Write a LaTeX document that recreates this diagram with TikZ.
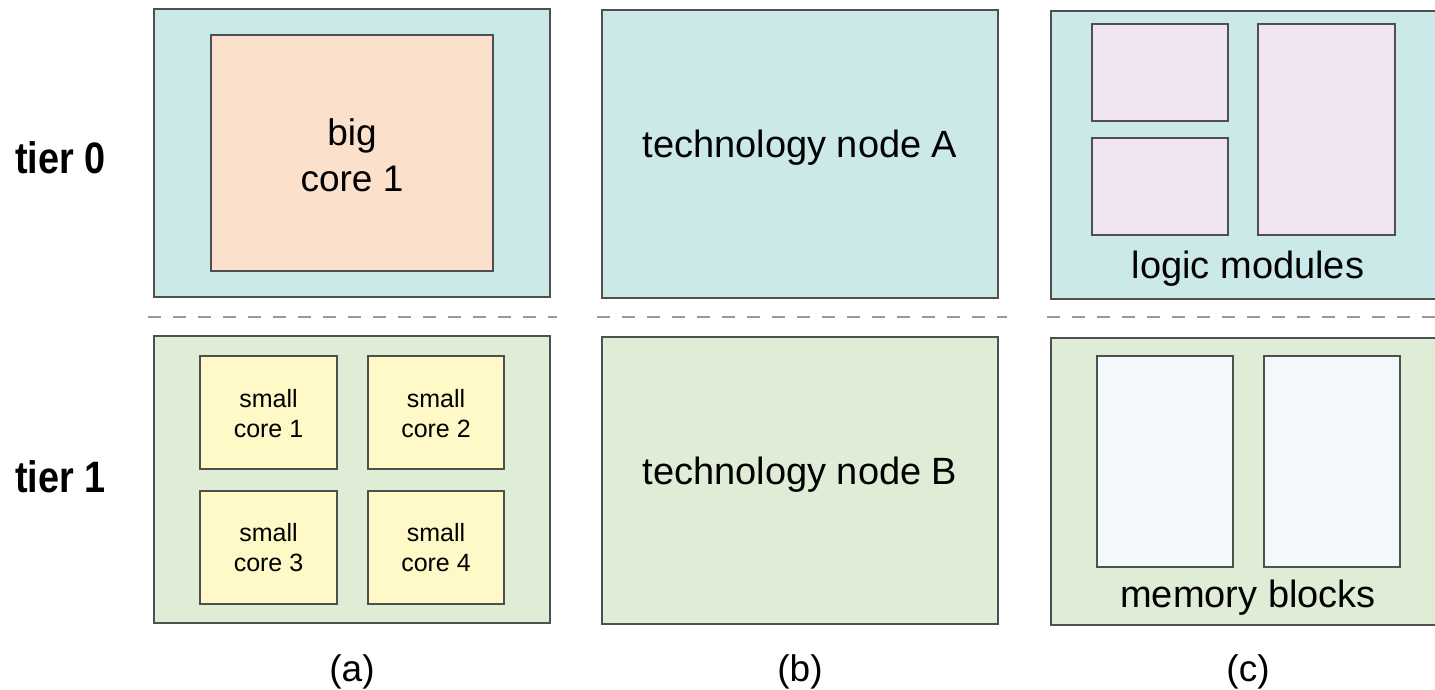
\documentclass[tikz,border=0pt]{standalone}
\usepackage{graphicx}
\usepackage{fontspec}
\setmainfont{Liberation Sans}

\definecolor{edgegray}{HTML}{4F4F4F}
\definecolor{sepgray}{HTML}{9A9A9A}
\definecolor{tiertop}{HTML}{CCE9EA}
\definecolor{tierbot}{HTML}{E0EDD6}
\definecolor{bigfill}{HTML}{FBE1CC}
\definecolor{smallfill}{HTML}{FEF9C6}
\definecolor{logicfill}{HTML}{F0E4F2}
\definecolor{memfill}{HTML}{F3F8FC}

% rectangle from (x1,y1) to (x2,y2), measured from the top left corner
\newcommand\blockat[6]{%
  \node[#1, minimum width={(#5)-(#3)}, minimum height={(#6)-(#4)}] (#2) at (#3,#4) {};}

\begin{document}
\begin{tikzpicture}[x=1pt, y=-1pt,
  blk/.style={draw=edgegray, line width=1.4pt, inner sep=0pt, outer sep=0pt, anchor=north west},
  toplayer/.style={blk, fill=tiertop},
  botlayer/.style={blk, fill=tierbot},
  bigcore/.style={blk, fill=bigfill},
  smallcore/.style={blk, fill=smallfill},
  logicblk/.style={blk, fill=logicfill},
  memblk/.style={blk, fill=memfill},
  sep/.style={draw=sepgray, line width=1.6pt, dash pattern=on 13pt off 12pt},
  lbl/.style={inner sep=0pt, font=\fontsize{38}{46}\selectfont, align=center},
  smalllbl/.style={inner sep=0pt, font=\fontsize{25}{30}\selectfont, align=center},
  tierlbl/.style={inner sep=0pt, font=\fontsize{44}{46}\selectfont\bfseries},
]
\clip (0,0) rectangle (1435,689);
\fill[white] (0,0) rectangle (1435,689);

% (a) big core over small cores (multi-line labels sit on their last baseline)
\blockat{toplayer}{aTop}{154}{9}{550}{297}
\blockat{bigcore}{big}{211}{35}{493}{271}
\node[lbl, font=\fontsize{37}{46}\selectfont, anchor=base] (bigtxt) at (352,191) {big\\core 1};

\blockat{botlayer}{aBot}{154}{336}{550}{623}
\blockat{smallcore}{s1}{200}{356}{337}{469}
\blockat{smallcore}{s2}{368}{356}{504}{469}
\blockat{smallcore}{s3}{200}{491}{337}{604}
\blockat{smallcore}{s4}{368}{491}{504}{604}
\node[smalllbl, anchor=base] (s1txt) at (268.5,437) {small\\core 1};
\node[smalllbl, anchor=base] (s2txt) at (436,437) {small\\core 2};
\node[smalllbl, anchor=base] (s3txt) at (268.5,571) {small\\core 3};
\node[smalllbl, anchor=base] (s4txt) at (436,571) {small\\core 4};

% (b) two technology nodes
\blockat{toplayer}{bTop}{602}{10}{998}{298}
\node[lbl, anchor=base] (btxtA) at (800,157) {technology node A};
\blockat{botlayer}{bBot}{602}{337}{998}{624}
\node[lbl, anchor=base] (btxtB) at (800,484) {technology node B};

% (c) logic over memory
\blockat{toplayer}{cTop}{1051}{11}{1447}{299}
\blockat{logicblk}{l1}{1092}{24}{1228}{121}
\blockat{logicblk}{l2}{1092}{138}{1228}{235}
\blockat{logicblk}{l3}{1258}{24}{1395}{235}
\node[lbl, anchor=base] (ctxtA) at (1248,278) {logic modules};

\blockat{botlayer}{cBot}{1051}{338}{1447}{625}
\blockat{memblk}{m1}{1097}{356}{1233}{567}
\blockat{memblk}{m2}{1264}{356}{1400}{567}
\node[lbl, anchor=base] (ctxtB) at (1248,607) {memory blocks};

% tier separators
\coordinate (sa1) at (148,317);  \coordinate (sa2) at (557,317);
\coordinate (sb1) at (597,317);  \coordinate (sb2) at (1007,317);
\coordinate (sc1) at (1047,317); \coordinate (sc2) at (1440,317);
\draw[sep] (sa1) -- (sa2);
\draw[sep] (sb1) -- (sb2);
\draw[sep] (sc1) -- (sc2);

% tier names
\node[tierlbl, anchor=base west] (tier0) at (15,173) {\scalebox{0.86}[1]{tier 0}};
\node[tierlbl, anchor=base west] (tier1) at (15,492) {\scalebox{0.86}[1]{tier 1}};

% sub-figure captions
\node[lbl, font=\fontsize{37}{44}\selectfont, anchor=base] (capa) at (352,681) {(a)};
\node[lbl, font=\fontsize{37}{44}\selectfont, anchor=base] (capb) at (800,681) {(b)};
\node[lbl, font=\fontsize{37}{44}\selectfont, anchor=base] (capc) at (1248,681) {(c)};
\end{tikzpicture}
\end{document}
